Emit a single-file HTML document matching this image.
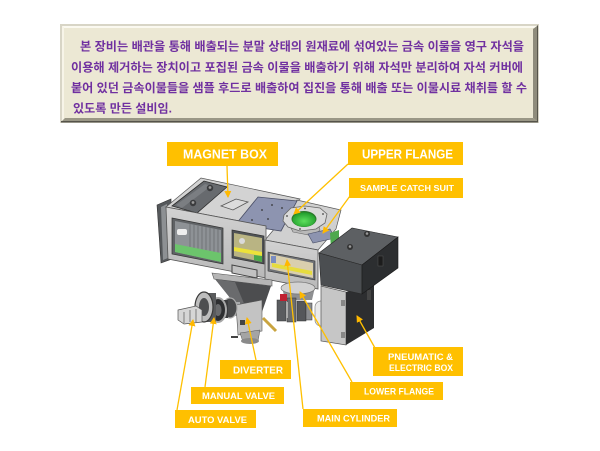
<!DOCTYPE html>
<html><head><meta charset="utf-8"><style>
html,body{margin:0;padding:0;background:#fff;}
svg{display:block;}
.kr{font-family:"Liberation Sans","Noto Sans CJK KR",sans-serif;font-weight:bold;fill:#7030a0;font-size:12px;}
.lb{font-family:"Liberation Sans",sans-serif;font-weight:bold;fill:#ffffff;}
.ln{stroke:#ffc000;stroke-width:1.3;fill:none;}
</style></head><body>
<svg width="600" height="451" viewBox="0 0 600 451" xmlns="http://www.w3.org/2000/svg">
<defs>
<marker id="ah" markerWidth="8" markerHeight="8" refX="6" refY="3.5" orient="auto" markerUnits="userSpaceOnUse">
<path d="M0,0 L7,3.5 L0,7 z" fill="#ffb800"/>
</marker>
<linearGradient id="gface" x1="0" y1="0" x2="0" y2="1"><stop offset="0" stop-color="#d2d2d2"/><stop offset="1" stop-color="#b9b9b9"/></linearGradient>
<radialGradient id="ggreen" cx="0.5" cy="0.6" r="0.6"><stop offset="0" stop-color="#5ee05e"/><stop offset="1" stop-color="#1f9a2a"/></radialGradient>
</defs>

<!-- Text box -->
<rect x="60" y="24" width="479" height="99" fill="#d8d5c6"/>
<rect x="62" y="26" width="475" height="95" fill="#ece8d4"/>
<polygon points="62,26 537,26 535,28 64,28" fill="#fbf9f0"/>
<polygon points="62,26 64,28 64,119 62,121" fill="#f7f4e8"/>
<polygon points="537,26 537,121 533,118 533,29" fill="#8f8c7c"/>
<polygon points="537,26 538,25 538,122 537,121" fill="#55534a"/>
<polygon points="62,121 537,121 533,118 65,118" fill="#9a9786"/>
<rect x="61" y="121" width="477" height="1.5" fill="#55534a"/>

<text class="kr" x="80" y="50.5" textLength="444" lengthAdjust="spacingAndGlyphs">본 장비는 배관을 통해 배출되는 분말 상태의 원재료에 섞여있는 금속 이물을 영구 자석을</text>
<text class="kr" x="71" y="71.5" textLength="452" lengthAdjust="spacingAndGlyphs">이용해 제거하는 장치이고 포집된 금속 이물을 배출하기 위해 자석만 분리하여 자석 커버에</text>
<text class="kr" x="71" y="92" textLength="456" lengthAdjust="spacingAndGlyphs">붙어 있던 금속이물들을 샘플 후드로 배출하여 집진을 통해 배출 또는 이물시료 채취를 할 수</text>
<text class="kr" x="73" y="112.5" textLength="99" lengthAdjust="spacingAndGlyphs">있도록 만든 설비임.</text>

<!-- ===== Machine ===== -->
<!-- left end plate -->
<polygon points="157,205 171,199 172,259 161,263" fill="#55585b" stroke="#333" stroke-width="0.6"/>
<polygon points="161,207 167,204 168,258 163,260" fill="#8d9093"/>

<!-- top face left section -->
<polygon points="166,207 201,178 300,199 266,226" fill="#d3d3d3" stroke="#555" stroke-width="0.7"/>
<!-- dark lid -->
<polygon points="172,206 204,181 227,187 197,213" fill="#676a6e" stroke="#2e2e2e" stroke-width="0.8"/>
<polygon points="176,205 205,184 211,186 182,208" fill="#7b7e82"/>
<circle cx="193" cy="203" r="3.2" fill="#3a3b3d"/><circle cx="193" cy="202.5" r="1.4" fill="#9a9a9a"/>
<circle cx="210" cy="188" r="3.2" fill="#3a3b3d"/><circle cx="210" cy="187.5" r="1.4" fill="#9a9a9a"/>
<!-- small plate on top -->
<polygon points="221,206 236,199 248,202 233,210" fill="#dcdcdc" stroke="#555" stroke-width="0.8"/>
<!-- middle top face -->
<polygon points="265,240 281,221 297,200 341,210 336,229 318,250" fill="#d0d0d0" stroke="#555" stroke-width="0.7"/>
<!-- blue plate -->
<polygon points="236,224 258,197 297,201 281,231" fill="#8d94b0" stroke="#4a4f66" stroke-width="0.8"/>
<circle cx="262" cy="210" r="0.9" fill="#333"/><circle cx="272" cy="205" r="0.9" fill="#333"/><circle cx="282" cy="208" r="0.9" fill="#333"/>
<circle cx="268" cy="219" r="0.9" fill="#333"/><circle cx="252" cy="220" r="0.9" fill="#333"/><circle cx="285" cy="218" r="0.9" fill="#333"/>

<!-- flange -->
<polygon points="293,232 314,236 320,230 318,223 296,220 290,226" fill="#b9b9b9" stroke="#666" stroke-width="0.6"/>
<polygon points="284,215 291,208 305,206 320,208 327,214 325,223 316,229 300,231 288,227 283,221" fill="#dadada" stroke="#666" stroke-width="0.8"/>
<ellipse cx="304" cy="219" rx="12.5" ry="8" fill="#2a7a2a"/>
<ellipse cx="304" cy="219.6" rx="11.5" ry="7.2" fill="url(#ggreen)"/>
<circle cx="287" cy="216" r="0.9" fill="#444"/><circle cx="323" cy="214" r="0.9" fill="#444"/><circle cx="305" cy="208.5" r="0.9" fill="#444"/><circle cx="300" cy="229" r="0.9" fill="#444"/>

<!-- sample catch suit plate -->
<polygon points="308,234 330,229 335,238 313,243" fill="#8d94b0" stroke="#4a4f66" stroke-width="0.6"/>
<polygon points="330,233 339,230 339,247 331,249" fill="#4ea84e"/>

<!-- front face left section -->
<polygon points="166,207 266,226 266,278 168,259" fill="url(#gface)" stroke="#555" stroke-width="0.8"/>
<!-- left window -->
<polygon points="172,218 223,228 223,264 172,254" fill="#5f6265" stroke="#333" stroke-width="0.7"/>
<polygon points="175,221 221,230 221,262 175,252" fill="#8e9296"/>
<g stroke="#6a6d70" stroke-width="0.8">
<line x1="190" y1="224" x2="190" y2="255"/><line x1="194" y1="225" x2="194" y2="256"/><line x1="198" y1="226" x2="198" y2="257"/>
<line x1="202" y1="226" x2="202" y2="258"/><line x1="206" y1="227" x2="206" y2="259"/><line x1="210" y1="228" x2="210" y2="260"/>
<line x1="214" y1="229" x2="214" y2="260"/><line x1="218" y1="229" x2="218" y2="261"/>
</g>
<polygon points="175,244 221,253 221,262 175,252" fill="#6cc46c"/>
<rect x="177" y="229" width="10" height="6" rx="2" fill="#eeeeee"/>
<!-- middle window (left section) -->
<polygon points="232,230 264,236 264,264 232,258" fill="#4f5255" stroke="#333" stroke-width="0.7"/>
<polygon points="234,233 262,238 262,262 234,256" fill="#b9b483"/>
<polygon points="234,247 262,252 262,256 234,251" fill="#ece23a"/>
<circle cx="242" cy="241" r="3" fill="#dadada"/>
<polygon points="254,255 262,256 262,262 254,260" fill="#4aa84a"/>
<!-- slot below -->
<polygon points="232,265 257,270 257,278 232,273" fill="#c2c2c2" stroke="#444" stroke-width="1"/>

<!-- middle front face -->
<polygon points="265,240 318,250 318,289 265,279" fill="url(#gface)" stroke="#555" stroke-width="0.8"/>
<polygon points="268,252 315,261 315,280 268,271" fill="#6d7075" stroke="#333" stroke-width="0.6"/>
<polygon points="270,254 313,263 313,278 270,269" fill="#d9cfae"/>
<polygon points="272,263 312,271 312,275 272,267" fill="#e6dc3e"/>
<rect x="271" y="256" width="5" height="7" fill="#7a8cc0"/>

<!-- hopper -->
<polygon points="212,273 272,280 272,286 214,279" fill="#b5b5b5" stroke="#555" stroke-width="0.6"/>
<polygon points="215,279 271,286 262,312 243,314" fill="#4c4d4f"/>
<polygon points="215,279 235,282 248,313 243,314" fill="#6a6b6d"/>

<!-- lower flange & pneumatics -->
<polygon points="282,287 315,287 312,300 285,300" fill="#8e8f91"/>
<ellipse cx="298" cy="288" rx="17" ry="6" fill="#d2d2d2" stroke="#777" stroke-width="0.7"/>
<rect x="277" y="300" width="9" height="21" fill="#5a5c5f" stroke="#333" stroke-width="0.5"/>
<rect x="287" y="298" width="9" height="24" fill="#6b6d70" stroke="#333" stroke-width="0.5"/>
<rect x="297" y="301" width="9" height="20" fill="#55575a" stroke="#333" stroke-width="0.5"/>
<rect x="306" y="303" width="6" height="17" fill="#8a8c8f" stroke="#333" stroke-width="0.5"/>
<rect x="280" y="294" width="7" height="7" fill="#c02030"/>
<rect x="286" y="302" width="2" height="16" fill="#aaa"/>
<!-- white tank -->
<rect x="315" y="301" width="14" height="25" rx="6" fill="#ebebeb" stroke="#888" stroke-width="0.7"/>
<line x1="329" y1="308" x2="336" y2="308" stroke="#999" stroke-width="1.5"/>
<line x1="329" y1="316" x2="336" y2="316" stroke="#999" stroke-width="1.5"/>

<!-- lower cabinet -->
<polygon points="321,286 346,292 346,345 321,341" fill="#c6c6c6" stroke="#555" stroke-width="0.7"/>
<rect x="341" y="300" width="4" height="6" fill="#888"/>
<rect x="341" y="332" width="4" height="6" fill="#888"/>
<polygon points="346,292 374,283 374,328 346,345" fill="#2d2e30"/>
<rect x="367" y="290" width="4" height="10" fill="#444"/>

<!-- dark right box -->
<polygon points="319,253 352,228 398,237 362,265" fill="#5d6063" stroke="#2a2a2a" stroke-width="0.6"/>
<polygon points="319,253 362,265 362,294 321,285" fill="#4b4e51" stroke="#2a2a2a" stroke-width="0.6"/>
<polygon points="362,265 398,237 398,268 362,294" fill="#2c2e30" stroke="#1a1a1a" stroke-width="0.6"/>
<circle cx="367" cy="234" r="3" fill="#333"/><circle cx="367" cy="233.5" r="1.3" fill="#999"/>
<circle cx="350" cy="247" r="3" fill="#333"/><circle cx="350" cy="246.5" r="1.3" fill="#999"/>
<rect x="378" y="256" width="5" height="10" fill="#1c1c1c" stroke="#555" stroke-width="0.5"/>

<!-- diverter -->
<rect x="224" y="302" width="16" height="14" fill="#a9aaac"/>
<polygon points="236,305 262,300 262,331 238,335" fill="#c3c3c3" stroke="#555" stroke-width="0.6"/>
<polygon points="240,333 260,330 258,341 243,342" fill="#a4a4a4" stroke="#555" stroke-width="0.5"/>
<ellipse cx="250" cy="341" rx="9" ry="3" fill="#8a8a8a"/>
<rect x="240" y="320" width="5" height="5" fill="#444"/>
<line x1="263" y1="318" x2="276" y2="331" stroke="#c9a440" stroke-width="3"/>
<line x1="231" y1="337" x2="238" y2="337" stroke="#444" stroke-width="2"/>

<!-- valves -->
<ellipse cx="230" cy="308" rx="7" ry="10" fill="#4a4b4d" stroke="#aaa" stroke-width="1.2"/>
<rect x="214" y="300" width="14" height="18" fill="#3b3c3e"/>
<ellipse cx="218" cy="310" rx="8" ry="12" fill="#2e2f31" stroke="#a8a8a8" stroke-width="2"/>
<ellipse cx="218" cy="310" rx="3.5" ry="6" fill="#6a6b6d"/>
<rect x="204" y="293" width="12" height="29" fill="#5a5b5d"/>
<ellipse cx="204" cy="307" rx="9" ry="15" fill="#bdbdbd" stroke="#3a3a3a" stroke-width="1.2"/>
<ellipse cx="204" cy="307" rx="5" ry="9" fill="#4d4e50"/>
<!-- auto valve -->
<polygon points="178,310 196,306 202,310 202,322 184,324 178,320" fill="#d6d6d6" stroke="#555" stroke-width="0.7"/>
<line x1="184" y1="312" x2="184" y2="323" stroke="#666" stroke-width="0.8"/>
<line x1="190" y1="310" x2="190" y2="322" stroke="#666" stroke-width="0.8"/>
<line x1="196" y1="309" x2="196" y2="322" stroke="#666" stroke-width="0.8"/>

<!-- ===== Labels ===== -->
<rect x="167" y="142" width="111" height="24" fill="#ffc000"/>
<text class="lb" x="183" y="158.5" font-size="12.5" textLength="84" lengthAdjust="spacingAndGlyphs">MAGNET BOX</text>

<rect x="348" y="142" width="115" height="23" fill="#ffc000"/>
<text class="lb" x="362" y="158.5" font-size="12.5" textLength="91" lengthAdjust="spacingAndGlyphs">UPPER FLANGE</text>

<rect x="349" y="178" width="114" height="20" fill="#ffc000"/>
<text class="lb" x="360" y="191" font-size="8.5" textLength="94" lengthAdjust="spacingAndGlyphs">SAMPLE CATCH SUIT</text>

<rect x="220" y="360" width="71" height="19" fill="#ffc000"/>
<text class="lb" x="233" y="373.5" font-size="10.5" textLength="50" lengthAdjust="spacingAndGlyphs">DIVERTER</text>

<rect x="191" y="387" width="93" height="17" fill="#ffc000"/>
<text class="lb" x="202" y="399" font-size="9" textLength="73" lengthAdjust="spacingAndGlyphs">MANUAL VALVE</text>

<rect x="175" y="410" width="81" height="18" fill="#ffc000"/>
<text class="lb" x="188" y="423" font-size="9" textLength="59" lengthAdjust="spacingAndGlyphs">AUTO VALVE</text>

<rect x="303" y="409" width="94" height="18" fill="#ffc000"/>
<text class="lb" x="317" y="421.5" font-size="9" textLength="73" lengthAdjust="spacingAndGlyphs">MAIN CYLINDER</text>

<rect x="350" y="382" width="93" height="18" fill="#ffc000"/>
<text class="lb" x="364" y="394.5" font-size="9" textLength="70" lengthAdjust="spacingAndGlyphs">LOWER FLANGE</text>

<rect x="373" y="347" width="90" height="29" fill="#ffc000"/>
<text class="lb" x="388" y="360" font-size="9" textLength="65" lengthAdjust="spacingAndGlyphs">PNEUMATIC &amp;</text>
<text class="lb" x="389" y="371" font-size="9" textLength="64" lengthAdjust="spacingAndGlyphs">ELECTRIC BOX</text>

<!-- leader lines -->
<line class="ln" x1="227" y1="166" x2="228" y2="197" marker-end="url(#ah)"/>
<line class="ln" x1="348" y1="164" x2="294" y2="214" marker-end="url(#ah)"/>
<line class="ln" x1="350" y1="196" x2="323" y2="233" marker-end="url(#ah)"/>
<line class="ln" x1="303" y1="409" x2="287" y2="260" marker-end="url(#ah)"/>
<line class="ln" x1="352" y1="382" x2="300" y2="292" marker-end="url(#ah)"/>
<line class="ln" x1="375" y1="348" x2="357" y2="316" marker-end="url(#ah)"/>
<line class="ln" x1="256" y1="360" x2="247" y2="318" marker-end="url(#ah)"/>
<line class="ln" x1="205" y1="387" x2="214" y2="318" marker-end="url(#ah)"/>
<line class="ln" x1="177" y1="410" x2="193" y2="320" marker-end="url(#ah)"/>
</svg>
</body></html>
